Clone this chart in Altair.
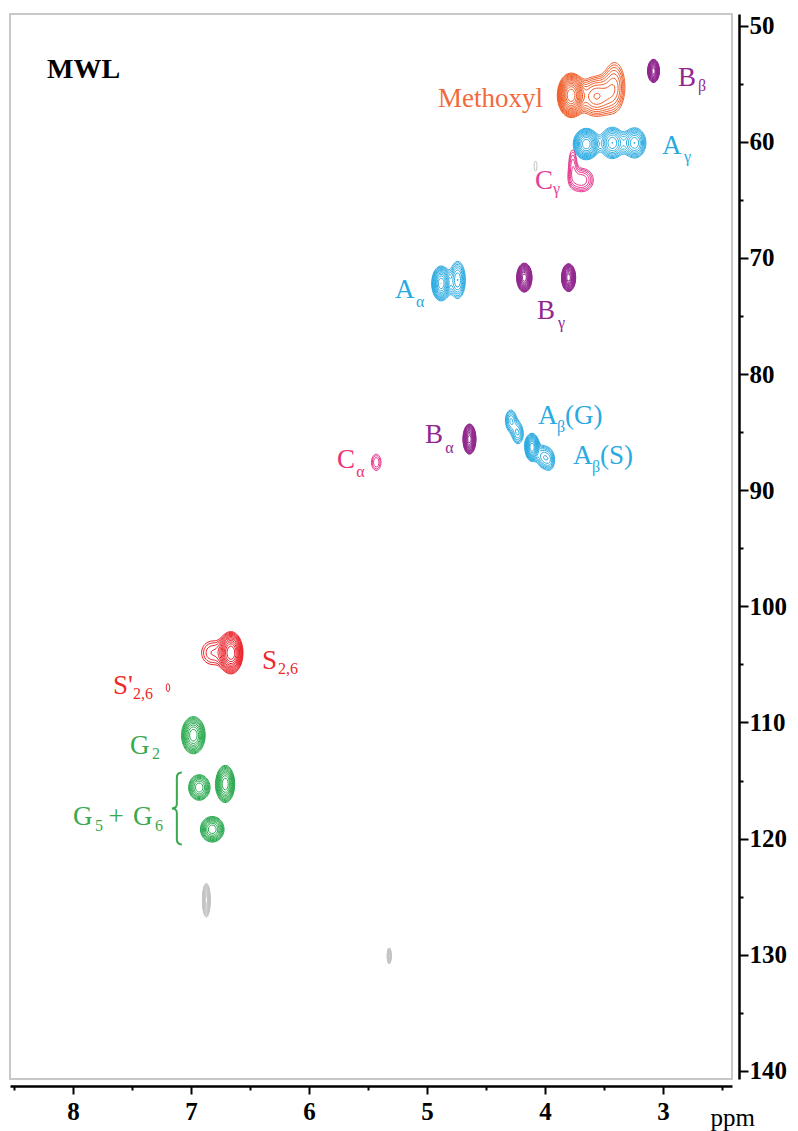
import numpy as np
import pandas as pd
import altair as alt

# ---------------- data ----------------
# HSQC cross-peaks: group, 1H shift, 13C shift, half-extent (1H), half-extent (13C), contour levels
pk_group = ["M", "M", "M",
            "A", "A", "A", "A", "A", "A", "A", "A", "A", "A",
            "B", "B", "B", "B",
            "C", "C", "C",
            "S", "S", "S",
            "G", "G", "G", "G",
            "N", "N", "N"]
pk_h = [3.78, 3.57, 3.41,
        3.65, 3.43, 3.24, 4.88, 4.74, 4.29, 4.23, 4.11, 4.02, 3.96,
        3.08, 4.175, 3.80, 4.64,
        3.69, 3.765, 5.43,
        6.66, 6.82, 7.195,
        6.98, 6.93, 6.71, 6.82,
        6.87, 5.32, 4.08]
pk_c = [56.0, 56.1, 55.2,
        60.2, 60.1, 60.1, 72.2, 71.9, 84.0, 85.1, 86.3, 87.1, 87.4,
        53.9, 71.7, 71.7, 85.6,
        63.3, 61.8, 87.6,
        104.0, 104.0, 107.0,
        111.1, 115.6, 115.3, 119.2,
        125.3, 130.1, 62.1]
pk_wh = [0.115, 0.14, 0.085,
         0.11, 0.10, 0.095, 0.08, 0.065, 0.045, 0.045, 0.06, 0.05, 0.04,
         0.05, 0.065, 0.06, 0.055,
         0.10, 0.03, 0.04,
         0.10, 0.09, 0.015,
         0.10, 0.09, 0.08, 0.10,
         0.033, 0.017, 0.012]
pk_wc = [1.9, 1.7, 2.0,
         1.35, 1.35, 1.3, 1.5, 1.6, 0.9, 0.9, 1.2, 0.9, 0.8,
         1.0, 1.25, 1.2, 1.3,
         1.0, 1.1, 0.7,
         1.8, 1.0, 0.35,
         1.6, 1.1, 1.6, 1.1,
         1.45, 0.7, 0.45]
pk_n = [14, 7, 5,
        11, 8, 8, 11, 7, 5, 5, 12, 5, 4,
        15, 15, 15, 15,
        5, 3, 3,
        12, 3, 1,
        10, 8, 10, 9,
        12, 8, 1]

groups = ["M", "A", "B", "C", "S", "G", "N"]
group_colors = ["#f15a24", "#29abe2", "#92278f", "#e6338c", "#ed1c24", "#25a84b", "#c4c4c4"]

# annotation labels (main text)
lab_text = ["Methoxyl", "B", "A", "C", "A", "B", "A", "(G)", "A", "(S)", "B", "C",
            "S", "S'", "G", "G", "+", "G"]
lab_x = [4.907, 2.873, 3.008, 4.085, 5.271, 4.068, 4.059, 3.831, 3.763, 3.534, 5.017, 5.763,
         6.398, 7.661, 7.517, 8.0, 7.70, 7.492]
lab_y = [57.04, 55.23, 61.09, 64.10, 73.49, 75.29, 84.33, 84.33, 87.78, 87.78, 85.98, 88.13,
         105.36, 107.51, 112.68, 118.79, 118.79, 118.79]
lab_col = ["#f26a3b", "#92278f", "#29abe2", "#e2409a", "#29abe2", "#92278f", "#29abe2", "#29abe2",
           "#29abe2", "#29abe2", "#92278f", "#ea3373", "#ee2a2a", "#ee2a2a", "#39a94e", "#39a94e",
           "#39a94e", "#39a94e"]
# subscripts
sub_text = ["β", "γ", "γ", "α", "γ", "β", "β", "α", "α", "2,6", "2,6", "2", "5", "6"]
sub_x = [2.703, 2.822, 3.932, 5.093, 3.89, 3.898, 3.602, 4.845, 5.60, 6.262, 7.492, 7.331, 7.814, 7.305]
sub_y = [55.66, 61.78, 64.53, 74.26, 76.07, 85.02, 88.47, 86.76, 88.9, 105.79, 107.94, 113.11, 119.31, 119.31]
sub_col = ["#92278f", "#29abe2", "#e2409a", "#29abe2", "#92278f", "#29abe2", "#29abe2", "#92278f",
           "#ea3373", "#ee2a2a", "#ee2a2a", "#39a94e", "#39a94e", "#39a94e"]

x_ticks = [2.5, 3.0, 3.5, 4.0, 4.5, 5.0, 5.5, 6.0, 6.5, 7.0, 7.5, 8.0, 8.5]
y_ticks = list(range(50, 145, 5))

# ---------------- contour rendering of the peak list ----------------
F_RATIO = 1.2
DX, DY = 0.007, 0.08

TABLE = {1: [("L", "B")], 2: [("B", "R")], 3: [("L", "R")], 4: [("R", "T")],
         5: [("L", "B"), ("R", "T")], 6: [("B", "T")], 7: [("L", "T")], 8: [("T", "L")],
         9: [("B", "T")], 10: [("B", "R"), ("T", "L")], 11: [("R", "T")], 12: [("L", "R")],
         13: [("B", "R")], 14: [("L", "B")]}


def iso_lines(X, Y, Fv, lev):
    Bm = Fv > lev
    case = (Bm[:-1, :-1].astype(int) + 2 * Bm[:-1, 1:] + 4 * Bm[1:, 1:] + 8 * Bm[1:, :-1])
    js, iis = np.nonzero((case > 0) & (case < 15))
    adj = {}

    def add(a, b):
        adj.setdefault(a, []).append(b)
        adj.setdefault(b, []).append(a)

    for j, i in zip(js.tolist(), iis.tolist()):
        c = int(case[j, i])
        E = {"B": ("h", j, i), "T": ("h", j + 1, i), "L": ("v", j, i), "R": ("v", j, i + 1)}
        for a, b in TABLE[c]:
            add(E[a], E[b])

    def pt(e):
        k, j, i = e
        if k == "h":
            a, b = Fv[j, i], Fv[j, i + 1]
            t = (lev - a) / (b - a)
            return X[i] + t * (X[i + 1] - X[i]), Y[j]
        a, b = Fv[j, i], Fv[j + 1, i]
        t = (lev - a) / (b - a)
        return X[i], Y[j] + t * (Y[j + 1] - Y[j])

    used = set()
    lines = []
    starts = [n for n, v in adj.items() if len(v) == 1] + list(adj.keys())
    for s in starts:
        if s in used:
            continue
        path = [s]
        used.add(s)
        cur = s
        while True:
            nxt = [n for n in adj[cur] if n not in used]
            if not nxt:
                if len(path) > 2 and s in adj[cur]:
                    path.append(s)
                break
            cur = nxt[0]
            used.add(cur)
            path.append(cur)
        lines.append([pt(e) for e in path])
    return lines


rows = []
lid = 0
for g in groups:
    idx = [i for i, gg in enumerate(pk_group) if gg == g]
    cx = np.array([pk_h[i] for i in idx])
    cy = np.array([pk_c[i] for i in idx])
    rx = np.array([pk_wh[i] for i in idx])
    ry = np.array([pk_wc[i] for i in idx])
    nn = np.array([pk_n[i] for i in idx])
    X = np.arange((cx - 1.6 * rx).min(), (cx + 1.6 * rx).max() + DX, DX)
    Y = np.arange((cy - 1.6 * ry).min(), (cy + 1.6 * ry).max() + DY, DY)
    XX, YY = np.meshgrid(X, Y)
    Fv = np.zeros_like(XX)
    for k in range(len(idx)):
        s = np.sqrt(2 * nn[k] * np.log(F_RATIO))
        sx, sy = rx[k] / s, ry[k] / s
        Fv += F_RATIO ** nn[k] * np.exp(-0.5 * (((XX - cx[k]) / sx) ** 2 + ((YY - cy[k]) / sy) ** 2))
    for lv in range(int(nn.max())):
        for line in iso_lines(X, Y, Fv, F_RATIO ** lv):
            if len(line) > 14:
                line = line[::2] + [line[-1]]
            for o, (px, py) in enumerate(line):
                rows.append((round(float(px), 4), round(float(py), 3), lid, o, g))
            lid += 1

cont = pd.DataFrame(rows, columns=["x", "y", "l", "o", "g"])
labels = pd.DataFrame({"x": lab_x, "y": lab_y, "t": lab_text, "c": lab_col})
subs = pd.DataFrame({"x": sub_x, "y": sub_y, "t": sub_text, "c": sub_col})
mwl = pd.DataFrame({"x": [8.22], "y": [54.54], "t": ["MWL"]})
brace = pd.DataFrame({"x": [7.12], "y": [117.4]})

# ---------------- chart ----------------
FONT = "Liberation Serif"
xscale = alt.Scale(domain=[2.415, 8.534], reverse=True, nice=False, zero=False)
yscale = alt.Scale(domain=[49.0, 140.7], reverse=True, nice=False, zero=False)

xaxis = alt.Axis(values=x_ticks, format=".1f",
                 labelExpr="datum.value % 1 === 0 ? format(datum.value, 'd') : ''",
                 tickSize={"condition": {"test": "datum.value % 1 === 0", "value": 8}, "value": 4},
                 offset=7, grid=False, domainColor="black", domainWidth=2.5, tickColor="black",
                 tickWidth=2, labelFont=FONT, labelFontWeight="bold", labelFontSize=25,
                 labelColor="black", labelPadding=5, labelFlush=False, labelOverlap=False,
                 title="ppm", titleFont=FONT, titleFontWeight="normal", titleFontSize=25,
                 titleColor="black", titleX=700, titleY=39, titleAlign="left",
                 titleBaseline="alphabetic", titleAnchor="start")
yaxis = alt.Axis(values=y_ticks, orient="right",
                 labelExpr="datum.value % 10 === 0 ? datum.label : ''",
                 tickSize={"condition": {"test": "datum.value % 10 === 0", "value": 9}, "value": 4},
                 offset=7, grid=False, domainColor="black", domainWidth=2.5, tickColor="black",
                 tickWidth=2, labelFont=FONT, labelFontWeight="bold", labelFontSize=25,
                 labelColor="black", labelPadding=1, labelFlush=False, labelOverlap=False,
                 labelAlign="left", labelBaseline="middle", title=None)

contours = alt.Chart(cont).mark_line(strokeWidth=1, strokeJoin="round").encode(
    x=alt.X("x:Q", scale=xscale, axis=xaxis),
    y=alt.Y("y:Q", scale=yscale, axis=yaxis),
    color=alt.Color("g:N", scale=alt.Scale(domain=groups, range=group_colors), legend=None),
    detail="l:N",
    order="o:Q",
)

text_main = alt.Chart(labels).mark_text(font=FONT, fontSize=27, align="left",
                                        baseline="alphabetic").encode(
    x=alt.X("x:Q", scale=xscale),
    y=alt.Y("y:Q", scale=yscale),
    text="t:N",
    color=alt.Color("c:N", scale=None),
)

text_sub = alt.Chart(subs).mark_text(font=FONT, fontSize=16, align="left",
                                     baseline="alphabetic").encode(
    x=alt.X("x:Q", scale=xscale),
    y=alt.Y("y:Q", scale=yscale),
    text="t:N",
    color=alt.Color("c:N", scale=None),
)

text_mwl = alt.Chart(mwl).mark_text(font=FONT, fontSize=28, fontWeight="bold", align="left",
                                    baseline="alphabetic", color="black").encode(
    x=alt.X("x:Q", scale=xscale),
    y=alt.Y("y:Q", scale=yscale),
    text="t:N",
)

BRACE_PATH = ("M 0.14 -1 C 0.03 -1 0 -0.95 0 -0.85 L 0 -0.12 C 0 -0.04 -0.06 0 -0.14 0 "
              "C -0.06 0 0 0.04 0 0.12 L 0 0.85 C 0 0.95 0.03 1 0.14 1")
brace_mark = alt.Chart(brace).mark_point(shape=BRACE_PATH, filled=False, size=5184,
                                         strokeWidth=2, color="#39a94e", opacity=1).encode(
    x=alt.X("x:Q", scale=xscale),
    y=alt.Y("y:Q", scale=yscale),
)

chart = alt.layer(contours, text_main, text_sub, text_mwl, brace_mark).properties(
    width=722, height=1065,
    padding={"left": 2, "top": 5, "right": 2, "bottom": 2},
    background="white",
).configure_view(stroke="#c8c8c8", strokeWidth=2)

chart.save("out.html", embed_options={"renderer": "svg", "actions": False})
